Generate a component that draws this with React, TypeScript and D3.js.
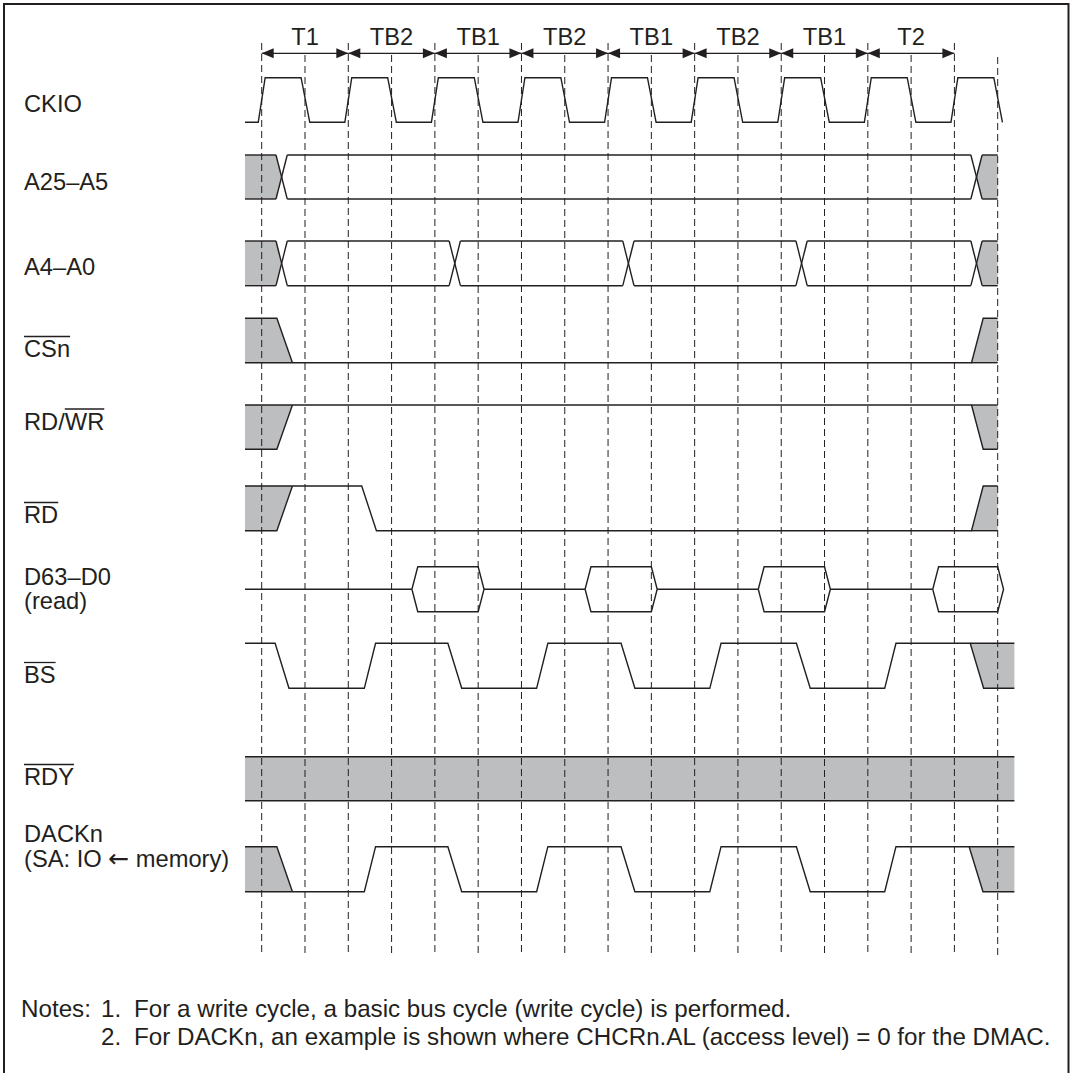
import React, { useEffect, useRef } from "react";
import * as d3 from "d3";

const W = 1074;
const H = 1073;
const INK = "#231f20";
const GRAY = "#bcbec0";
const FONT = "'Liberation Sans', Arial, Helvetica, sans-serif";

// ---- timing data (time unit = half CKIO period, 0 = first rising edge) ----
const T_START = -0.386;
const T_END = 17;
const T_EXT = 17.385;
const cycleLabels = ["T1", "TB2", "TB1", "TB2", "TB1", "TB2", "TB1", "T2"];
const cycleBounds = [0, 2, 4, 6, 8, 10, 12, 14, 16];
const gridTimes = [0, 1, 2, 3, 4, 5, 6, 7, 8, 9, 10, 11, 12, 13, 14, 15, 16, 17];
const clockRise = [0, 2, 4, 6, 8, 10, 12, 14, 16];
const clockFall = [1, 3, 5, 7, 9, 11, 13, 15, 17];
const addrHighCross = [0.46, 16.51];
const addrLowCross = [0.46, 4.46, 8.47, 12.47, 16.51];
const strobeWindow = [0.53, 16.53];
const rdAssert = [2.48];
const dataOpen = [3.47, 7.47, 11.47, 15.5];
const dataClose = [5, 9, 13, 17];
const bsFall = [0.47, 4.46, 8.46, 12.51, 16.52];
const bsRise = [2.5, 6.48, 10.48, 14.52];
const dackFall = [0.53, 4.46, 8.46, 12.51, 16.5];
const dackRise = [2.5, 6.48, 10.48, 14.52];

const signalNames = ["CKIO", "A25–A5", "A4–A0", "CSn", "RD/WR", "RD", "D63–D0", "BS", "RDY", "DACKn"];
const signalSubNames: (string[] | null)[] = [null, null, null, null, null, null, ["(read)"], null, null, ["(SA: IO ", "\u2190", " memory)"]];
const overlineChars: ([number, number] | null)[] = [null, null, null, [0, 2], [3, 4], [0, 1], null, [0, 1], [0, 2], null];
const notes = [
  ["Notes:", "1.", "For a write cycle, a basic bus cycle (write cycle) is performed."],
  ["", "2.", "For DACKn, an example is shown where CHCRn.AL (access level) = 0 for the DMAC."],
];

// ---- layout ----
const rowTop = [77.7, 155, 241, 318.3, 405, 486, 566.7, 643.3, 756.7, 846.7];
const rowBot = [122.3, 199, 285.7, 362.7, 449.3, 530.7, 611.7, 688.3, 800.7, 891.7];
const labelBase = [112, 190, 275, 357, 429.5, 523, 585, 683, 785, 842];
const subLabelBase = [0, 0, 0, 0, 0, 0, 609, 0, 0, 866.5];

type Pt = [number, number];
type Edge = { t: number; h: number };

export default function App() {
  const ref = useRef<SVGSVGElement>(null);

  useEffect(() => {
    const svg = d3.select(ref.current!);
    svg.selectAll("*").remove();

    const x = d3.scaleLinear().domain([0, 17]).range([261.7, 997.7]);
    const line = d3.line<Pt>().x((d) => x(d[0])).y((d) => d[1]);

    svg.append("rect").attr("width", W).attr("height", H).attr("fill", "#fff");
    const gFill = svg.append("g");
    const gGrid = svg.append("g");
    const gWave = svg
      .append("g")
      .attr("fill", "none")
      .attr("stroke", INK)
      .attr("stroke-width", 1.4)
      .attr("stroke-linejoin", "miter");
    const gText = svg.append("g").attr("font-family", FONT).attr("fill", INK);

    const stroke = (pts: Pt[]) => gWave.append("path").attr("d", line(pts));
    const fill = (pts: Pt[]) => gFill.append("path").attr("d", line(pts) + "Z").attr("fill", GRAY);

    // frame
    svg
      .append("path")
      .attr("d", `M4,${H} V4 H1068.5 V${H}`)
      .attr("fill", "none")
      .attr("stroke", INK)
      .attr("stroke-width", 2);

    // grid dashed lines
    gridTimes.forEach((t) => {
      const top = cycleBounds.includes(t) ? 43 : t === 17 ? 57 : 55;
      gGrid
        .append("line")
        .attr("x1", x(t))
        .attr("x2", x(t))
        .attr("y1", top)
        .attr("y2", 955)
        .attr("stroke", INK)
        .attr("stroke-width", 1)
        .attr("stroke-dasharray", "7,4");
    });

    // cycle arrows + labels
    const ay = 53.3;
    for (let i = 0; i < cycleLabels.length; i++) {
      const x0 = x(cycleBounds[i]);
      const x1 = x(cycleBounds[i + 1]);
      svg.append("line").attr("x1", x0).attr("x2", x1).attr("y1", ay).attr("y2", ay).attr("stroke", INK).attr("stroke-width", 1.3);
      svg.append("path").attr("d", `M${x0},${ay} L${x0 + 12},${ay - 5} L${x0 + 12},${ay + 5}Z`).attr("fill", INK);
      svg.append("path").attr("d", `M${x1},${ay} L${x1 - 12},${ay - 5} L${x1 - 12},${ay + 5}Z`).attr("fill", INK);
      gText
        .append("text")
        .attr("x", (x0 + x1) / 2)
        .attr("y", 45)
        .attr("text-anchor", "middle")
        .attr("font-size", 23.7)
        .text(cycleLabels[i]);
    }

    const row = (i: number) => ({ top: rowTop[i], bot: rowBot[i] });

    function digital(
      i: number,
      initial: number,
      edges: Edge[],
      startT: number,
      endT: number,
      unkStart?: Edge,
      unkEnd?: Edge
    ) {
      const r = row(i);
      const Y = (lv: number) => (lv ? r.top : r.bot);
      if (unkStart) {
        const other = 1 - initial;
        const a = unkStart.t - unkStart.h;
        const b = unkStart.t + unkStart.h;
        fill([[startT, Y(other)], [a, Y(other)], [b, Y(initial)], [startT, Y(initial)]]);
        stroke([[startT, Y(other)], [a, Y(other)], [b, Y(initial)]]);
      }
      let lv = initial;
      const pts: Pt[] = [[startT, Y(lv)]];
      edges.forEach((e) => {
        pts.push([e.t - e.h, Y(lv)]);
        lv = 1 - lv;
        pts.push([e.t + e.h, Y(lv)]);
      });
      if (unkEnd) {
        const a = unkEnd.t - unkEnd.h;
        const b = unkEnd.t + unkEnd.h;
        pts.push([a, Y(lv)], [b, Y(1 - lv)], [endT, Y(1 - lv)]);
        fill([[a, Y(lv)], [b, Y(1 - lv)], [endT, Y(1 - lv)], [endT, Y(lv)]]);
        stroke([[a, Y(lv)], [endT, Y(lv)]]);
      } else {
        pts.push([endT, Y(lv)]);
      }
      stroke(pts);
    }

    function bus(i: number, crosses: number[], w: number, startT: number, endT: number) {
      const r = row(i);
      const mid = (r.top + r.bot) / 2;
      const c0 = crosses[0];
      const cN = crosses[crosses.length - 1];
      fill([[startT, r.top], [c0 - w, r.top], [c0, mid], [c0 - w, r.bot], [startT, r.bot]]);
      fill([[cN, mid], [cN + w, r.top], [endT, r.top], [endT, r.bot], [cN + w, r.bot]]);
      for (let k = 0; k <= crosses.length; k++) {
        const a = k === 0 ? startT : crosses[k - 1] + w;
        const b = k === crosses.length ? endT : crosses[k] - w;
        stroke([[a, r.top], [b, r.top]]);
        stroke([[a, r.bot], [b, r.bot]]);
      }
      crosses.forEach((c) => {
        stroke([[c - w, r.top], [c + w, r.bot]]);
        stroke([[c - w, r.bot], [c + w, r.top]]);
      });
    }

    function dataBus(i: number, opens: number[], closes: number[], w: number, startT: number) {
      const r = row(i);
      const mid = (r.top + r.bot) / 2;
      let prev = startT;
      opens.forEach((o, k) => {
        stroke([[prev, mid], [o, mid]]);
        const c = closes[k];
        stroke([[o, mid], [o + w, r.top], [c, r.top], [c + w, mid], [c, r.bot], [o + w, r.bot], [o, mid]]);
        prev = c + w;
      });
    }

    // CKIO
    const ckEdges: Edge[] = [
      ...clockRise.map((t) => ({ t, h: 0.08 })),
      ...clockFall.map((t) => ({ t: t + 0.01, h: 0.1 })),
    ].sort((a, b) => a.t - b.t);
    const lastCk = ckEdges[ckEdges.length - 1];
    digital(0, 0, ckEdges, T_START, lastCk.t + lastCk.h);

    // Address buses
    bus(1, addrHighCross, 0.13, T_START, T_END);
    bus(2, addrLowCross, 0.13, T_START, T_END);

    // CSn
    digital(3, 0, [], T_START, T_END, { t: strobeWindow[0], h: 0.18 }, { t: strobeWindow[1], h: 0.135 });
    // RD/WR
    digital(4, 1, [], T_START, T_END, { t: strobeWindow[0], h: 0.18 }, { t: strobeWindow[1], h: 0.135 });
    // RD
    digital(
      5,
      1,
      rdAssert.map((t) => ({ t, h: 0.17 })),
      T_START,
      T_END,
      { t: strobeWindow[0], h: 0.18 },
      { t: strobeWindow[1], h: 0.135 }
    );

    // D63-D0
    dataBus(6, dataOpen, dataClose, 0.135, T_START);

    // BS
    const bsEdges: Edge[] = [
      ...bsFall.slice(0, -1).map((t) => ({ t, h: 0.16 })),
      ...bsRise.map((t) => ({ t, h: 0.13 })),
    ].sort((a, b) => a.t - b.t);
    digital(7, 1, bsEdges, T_START, T_EXT, undefined, { t: bsFall[bsFall.length - 1], h: 0.155 });

    // RDY
    {
      const r = row(8);
      fill([[T_START, r.top], [T_EXT, r.top], [T_EXT, r.bot], [T_START, r.bot]]);
      stroke([[T_START, r.top], [T_EXT, r.top]]);
      stroke([[T_START, r.bot], [T_EXT, r.bot]]);
    }

    // DACKn
    const dkEdges: Edge[] = [
      ...dackFall.slice(1, -1).map((t) => ({ t, h: 0.16 })),
      ...dackRise.map((t) => ({ t, h: 0.13 })),
    ].sort((a, b) => a.t - b.t);
    digital(
      9,
      0,
      dkEdges,
      T_START,
      T_EXT,
      { t: dackFall[0], h: 0.18 },
      { t: dackFall[dackFall.length - 1], h: 0.16 }
    );

    // signal labels
    signalNames.forEach((name, i) => {
      const t = gText
        .append("text")
        .attr("x", 24)
        .attr("y", labelBase[i])
        .attr("font-size", 23.7)
        .text(name);
      const ov = overlineChars[i];
      if (ov) {
        const node = t.node() as SVGTextElement;
        const x0 = node.getStartPositionOfChar(ov[0]).x;
        const x1 = node.getEndPositionOfChar(ov[1]).x;
        svg
          .append("line")
          .attr("x1", x0)
          .attr("x2", x1)
          .attr("y1", labelBase[i] - 20.5)
          .attr("y2", labelBase[i] - 20.5)
          .attr("stroke", INK)
          .attr("stroke-width", 1.3);
      }
      const sub = signalSubNames[i];
      if (sub) {
        const st = gText
          .append("text")
          .attr("x", 24)
          .attr("y", subLabelBase[i])
          .attr("font-size", 23.7);
        sub.forEach((part) => {
          const sp = st.append("tspan").text(part);
          if (part === "\u2190") sp.attr("font-family", "'DejaVu Sans', sans-serif").attr("font-size", 25);
        });
      }
    });

    // notes
    const noteBase = [1017, 1045];
    notes.forEach((n, i) => {
      const xs = [21, 101, 134];
      n.forEach((s, k) => {
        if (!s) return;
        gText.append("text").attr("x", xs[k]).attr("y", noteBase[i]).attr("font-size", 24.2).text(s);
      });
    });
  }, []);

  return (
    <svg
      ref={ref}
      width={W}
      height={H}
      style={{ position: "absolute", left: 0, top: 0, display: "block" }}
    />
  );
}
